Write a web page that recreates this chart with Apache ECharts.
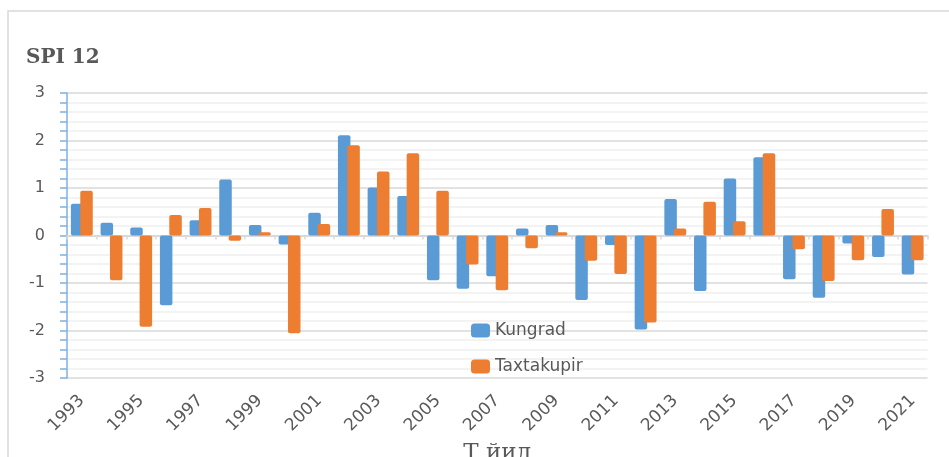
<!DOCTYPE html>
<html>
<head>
<meta charset="utf-8">
<script src="https://cdn.jsdelivr.net/npm/echarts@6/dist/echarts.min.js"></script>
<style>
  html, body { margin: 0; padding: 0; background: #fff; }
  #chart { width: 949px; height: 457px; }
</style>
</head>
<body>
<div id="chart"></div>
<script>
const years = ['1993', '1994', '1995', '1996', '1997', '1998', '1999', '2000', '2001', '2002',
  '2003', '2004', '2005', '2006', '2007', '2008', '2009', '2010', '2011', '2012',
  '2013', '2014', '2015', '2016', '2017', '2018', '2019', '2020', '2021']

const kungrad = [0.67, 0.27, 0.17, -1.47, 0.32, 1.18, 0.22, -0.19, 0.48, 2.11,
  1.01, 0.83, -0.94, -1.12, -0.86, 0.15, 0.22, -1.36, -0.2, -1.98,
  0.77, -1.17, 1.2, 1.65, -0.92, -1.31, -0.17, -0.45, -0.82]

const taxtakupir = [0.94, -0.94, -1.92, 0.43, 0.58, -0.11, 0.07, -2.06, 0.24, 1.9,
  1.35, 1.73, 0.94, -0.61, -1.15, -0.27, 0.07, -0.53, -0.81, -1.83,
  0.15, 0.71, 0.3, 1.73, -0.29, -0.96, -0.52, 0.56, -0.52]

const yTicks = { min: -3, max: 3, interval: 1 }

const textGray = '#595959'
const chart = echarts.init(document.getElementById('chart'))

const option = {
  backgroundColor: '#fff',
  animation: false,
  color: ['#5b9bd5', '#ed7d31'],
  graphic: [
    {
      type: 'rect',
      shape: { x: 8, y: 11, width: 960, height: 470 },
      style: { fill: 'none', stroke: '#d9d9d9', lineWidth: 1.5 },
      z: -1,
    },
  ],
  title: {
    text: 'SPI 12',
    left: 26,
    top: 48,
    padding: 0,
    textStyle: {
      fontFamily: 'DejaVu Serif',
      fontWeight: 'bold',
      fontSize: 20,
      color: textGray,
    },
  },
  legend: {
    orient: 'vertical',
    left: 471,
    top: 322,
    padding: 0,
    itemWidth: 19,
    itemHeight: 14,
    itemGap: 19,
    icon: 'roundRect',
    textStyle: { fontFamily: 'DejaVu Sans', fontSize: 17, color: textGray },
    data: ['Kungrad', 'Taxtakupir'],
  },
  grid: {
    left: 67,
    right: 21.5,
    top: 93,
    bottom: 79,
    containLabel: false,
    outerBoundsMode: 'none',
  },
  xAxis: [
    {
      type: 'category',
      data: years,
      name: 'Т йил',
      nameLocation: 'middle',
      nameGap: 62,
      nameTextStyle: { fontFamily: 'DejaVu Serif', fontSize: 23, color: textGray },
      axisLine: { show: false, onZero: false },
      axisTick: { show: false },
      axisLabel: {
        interval: 1,
        rotate: 45,
        margin: 20,
        fontFamily: 'DejaVu Sans',
        fontSize: 17,
        color: textGray,
      },
      splitLine: { show: false },
    },
    {
      type: 'category',
      data: years,
      position: 'bottom',
      axisLine: { show: true, onZero: true, lineStyle: { color: '#d9d9d9', width: 2 } },
      axisTick: { show: true, interval: 0, length: 4, lineStyle: { color: '#d9d9d9', width: 1.5 } },
      axisLabel: { show: false },
      splitLine: { show: false },
    },
  ],
  yAxis: {
    type: 'value',
    min: yTicks.min,
    max: yTicks.max,
    interval: yTicks.interval,
    axisLine: { show: true, lineStyle: { color: '#7fb0e0', width: 1.5 } },
    axisTick: { show: true, length: 7, lineStyle: { color: '#7fb0e0', width: 1.5 } },
    minorTick: { show: true, splitNumber: 5, length: 7, lineStyle: { color: '#7fb0e0', width: 1.5 } },
    axisLabel: {
      margin: 22,
      fontFamily: 'DejaVu Sans',
      fontSize: 16,
      color: textGray,
    },
    splitLine: { show: true, lineStyle: { color: '#d9d9d9', width: 1.5 } },
    minorSplitLine: { show: true, lineStyle: { color: '#efefef', width: 1.5 } },
  },
  series: [
    {
      name: 'Kungrad',
      type: 'bar',
      xAxisIndex: 0,
      data: kungrad,
      barWidth: 12.5,
      barGap: '-25%',
      itemStyle: { borderRadius: 2 },
    },
    {
      name: 'Taxtakupir',
      type: 'bar',
      xAxisIndex: 0,
      data: taxtakupir,
      barWidth: 12.5,
      barGap: '-25%',
      itemStyle: { borderRadius: 2 },
    },
  ],
}

chart.setOption(option)
</script>
</body>
</html>
